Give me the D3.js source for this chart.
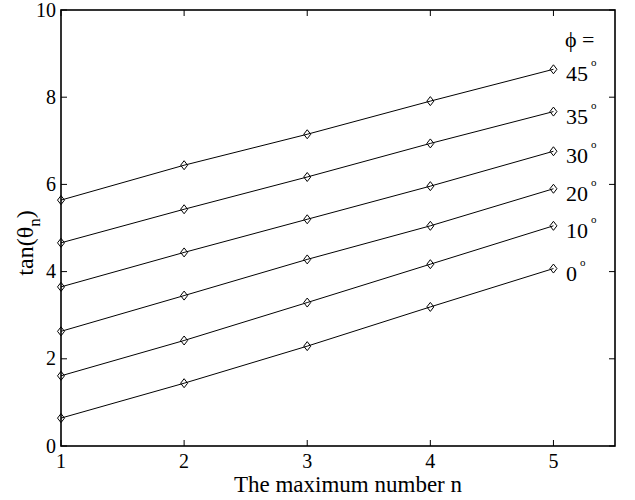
<!DOCTYPE html>
<html>
<head>
<meta charset="utf-8">
<script src="https://cdn.jsdelivr.net/npm/d3@7"></script>
<style>
  body { margin: 0; background: #fff; }
  svg text { font-family: "Liberation Serif", "Times New Roman", serif; fill: #000; }
</style>
</head>
<body>
<svg id="chart" width="635" height="500"></svg>
<script>
// values
const nValues = [1, 2, 3, 4, 5];
const phiLabels = ['45', '35', '30', '20', '10', '0'];
const tan45 = [5.64, 6.44, 7.15, 7.91, 8.64];
const tan35 = [4.66, 5.43, 6.17, 6.94, 7.67];
const tan30 = [3.65, 4.44, 5.20, 5.96, 6.76];
const tan20 = [2.63, 3.45, 4.28, 5.05, 5.90];
const tan10 = [1.61, 2.42, 3.29, 4.17, 5.05];
const tan0 = [0.64, 1.44, 2.29, 3.19, 4.07];
const xTicks = [1, 2, 3, 4, 5];
const yTicks = [0, 2, 4, 6, 8, 10];

const series = [tan45, tan35, tan30, tan20, tan10, tan0].map((vals, i) => ({
  label: phiLabels[i],
  points: vals.map((v, j) => ({ n: nValues[j], t: v })),
}));

const margin = { left: 61, top: 10, right: 20, bottom: 54 };
const width = 635;
const height = 500;

const svg = d3.select('#chart');

const x = d3.scaleLinear()
  .domain([1, 5.5])
  .range([margin.left, width - margin.right]);
const y = d3.scaleLinear()
  .domain([0, 10])
  .range([height - margin.bottom, margin.top]);

const tickLen = 6;

// inward ticks on all four sides
const ticks = svg.append('g').attr('stroke', '#000').attr('stroke-width', 1);
xTicks.forEach((d) => {
  ticks.append('line').attr('x1', x(d)).attr('x2', x(d))
    .attr('y1', y(0)).attr('y2', y(0) - tickLen);
  ticks.append('line').attr('x1', x(d)).attr('x2', x(d))
    .attr('y1', y(10)).attr('y2', y(10) + tickLen);
});
yTicks.forEach((d) => {
  ticks.append('line').attr('x1', x(1)).attr('x2', x(1) + tickLen)
    .attr('y1', y(d)).attr('y2', y(d));
  ticks.append('line').attr('x1', x(5.5)).attr('x2', x(5.5) - tickLen)
    .attr('y1', y(d)).attr('y2', y(d));
});

// tick labels
svg.append('g').selectAll('text')
  .data(xTicks)
  .enter().append('text')
  .attr('x', d => x(d))
  .attr('y', y(0) + 22)
  .attr('text-anchor', 'middle')
  .style('font-size', '20px')
  .text(d => d);

svg.append('g').selectAll('text')
  .data(yTicks)
  .enter().append('text')
  .attr('x', x(1) - 5)
  .attr('y', d => y(d))
  .attr('dy', '0.33em')
  .attr('text-anchor', 'end')
  .style('font-size', '20px')
  .text(d => d);

// lines + diamonds
const line = d3.line()
  .x(d => x(d.n))
  .y(d => y(d.t));

const groups = svg.append('g').selectAll('g')
  .data(series)
  .enter().append('g');

groups.append('path')
  .attr('d', d => line(d.points))
  .attr('fill', 'none')
  .attr('stroke', '#000')
  .attr('stroke-width', 1);

groups.selectAll('path.marker')
  .data(d => d.points)
  .enter().append('path')
  .attr('class', 'marker')
  .attr('d', d => {
    const cx = x(d.n);
    const cy = y(d.t);
    return `M${cx},${cy - 4.5}L${cx + 3.5},${cy}L${cx},${cy + 4.5}L${cx - 3.5},${cy}Z`;
  })
  .attr('fill', 'none')
  .attr('stroke', '#000')
  .attr('stroke-width', 1);

// frame
svg.append('rect')
  .attr('x', x(1))
  .attr('y', y(10))
  .attr('width', x(5.5) - x(1))
  .attr('height', y(0) - y(10))
  .attr('fill', 'none')
  .attr('stroke', '#000')
  .attr('stroke-width', 1.6);

// phi labels at the line ends
svg.append('text')
  .attr('x', 565)
  .attr('y', 47)
  .style('font-size', '22px')
  .text('\u03d5 =');

const labels = svg.append('g').selectAll('text')
  .data(series)
  .enter().append('text')
  .attr('x', 566)
  .attr('y', d => y(d.points[d.points.length - 1].t) + 12)
  .style('font-size', '22px');
labels.append('tspan').text(d => d.label);
labels.append('tspan')
  .attr('dx', 3)
  .attr('dy', -15)
  .style('font-size', '11px')
  .text('o');

// axis labels
svg.append('text')
  .attr('x', 348)
  .attr('y', 492)
  .attr('text-anchor', 'middle')
  .style('font-size', '23px')
  .text('The maximum number n');

const yl = svg.append('text')
  .attr('transform', 'translate(33,243) rotate(-90)')
  .attr('text-anchor', 'middle')
  .style('font-size', '24px');
yl.append('tspan').text('tan(\u03b8');
yl.append('tspan').attr('dy', 7).style('font-size', '17px').text('n');
yl.append('tspan').attr('dy', -7).text(')');
</script>
</body>
</html>
